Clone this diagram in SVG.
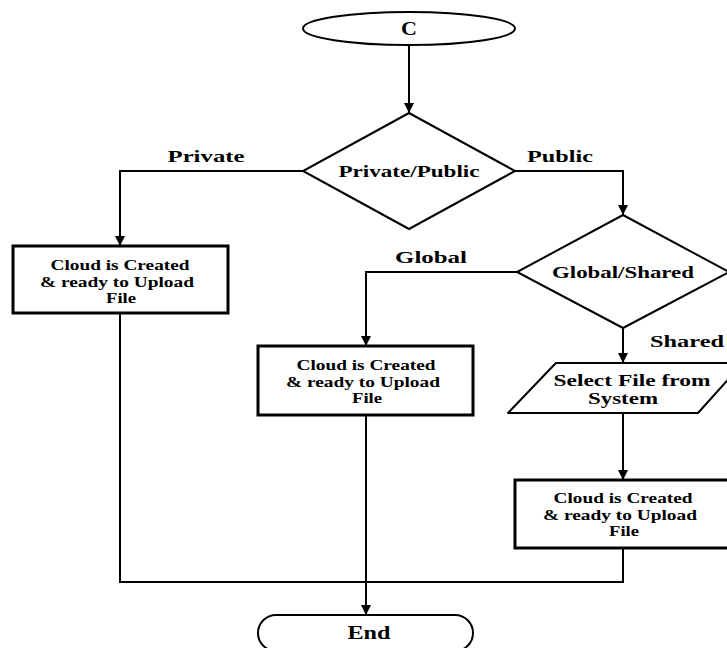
<svg xmlns="http://www.w3.org/2000/svg" width="727" height="648" viewBox="0 0 727 648">
  <defs>
    <marker id="arrow" markerUnits="userSpaceOnUse" markerWidth="10" markerHeight="10" refX="10" refY="5" orient="auto">
      <path d="M0,0 L10,5 L0,10 z" fill="#000"/>
    </marker>
    <style>
      .shape { fill: #fff; stroke: #000; stroke-width: 2; }
      .box { fill: #fff; stroke: #000; stroke-width: 3; }
      .conn { fill: none; stroke: #000; stroke-width: 2; }
      text { font-family: "Liberation Serif", "Times New Roman", serif; font-weight: bold; fill: #000; text-anchor: middle; }
      .lbl { font-size: 17px; }
      .big { font-size: 19px; }
      .bt { font-size: 15px; }
    </style>
  </defs>
  <rect width="727" height="648" fill="#fff"/>

  <g id="connectors">
    <path class="conn" d="M409,45 V113" marker-end="url(#arrow)"/>
    <path class="conn" d="M303,171 H120 V246" marker-end="url(#arrow)"/>
    <path class="conn" d="M515,171 H623 V215" marker-end="url(#arrow)"/>
    <path class="conn" d="M517,272 H366 V346" marker-end="url(#arrow)"/>
    <path class="conn" d="M623,328 V363" marker-end="url(#arrow)"/>
    <path class="conn" d="M623,413 V480" marker-end="url(#arrow)"/>
    <path class="conn" d="M120,313 V582 H623 V548"/>
    <path class="conn" d="M366,415 V615" marker-end="url(#arrow)"/>
    <text class="lbl" x="206" y="162" textLength="77" lengthAdjust="spacingAndGlyphs">Private</text>
    <text class="lbl" x="560" y="162" textLength="66" lengthAdjust="spacingAndGlyphs">Public</text>
    <text class="lbl" x="431" y="263" textLength="72" lengthAdjust="spacingAndGlyphs">Global</text>
    <text class="lbl" x="687" y="347" textLength="74" lengthAdjust="spacingAndGlyphs">Shared</text>
  </g>

  <g id="start">
    <ellipse class="shape" cx="409" cy="28.5" rx="106" ry="16.5"/>
    <text class="big" x="409" y="35" textLength="16" lengthAdjust="spacingAndGlyphs">C</text>
  </g>

  <g id="private-public">
    <polygon class="shape" points="409,113 515,171 409,229 303,171"/>
    <text class="lbl" x="409" y="177" textLength="141" lengthAdjust="spacingAndGlyphs">Private/Public</text>
  </g>

  <g id="cloud-private">
    <rect class="box" x="13" y="246" width="215" height="67"/>
    <text class="bt" x="120" y="270" textLength="139" lengthAdjust="spacingAndGlyphs">Cloud is Created</text>
    <text class="bt" x="117" y="287" textLength="154" lengthAdjust="spacingAndGlyphs">&amp; ready to Upload</text>
    <text class="bt" x="121" y="303" textLength="30" lengthAdjust="spacingAndGlyphs">File</text>
  </g>

  <g id="global-shared">
    <polygon class="shape" points="623,215 729,272 623,328 517,272"/>
    <text class="lbl" x="623" y="278" textLength="142" lengthAdjust="spacingAndGlyphs">Global/Shared</text>
  </g>

  <g id="cloud-global">
    <rect class="box" x="258" y="346" width="215" height="69"/>
    <text class="bt" x="366" y="370" textLength="139" lengthAdjust="spacingAndGlyphs">Cloud is Created</text>
    <text class="bt" x="363" y="387" textLength="154" lengthAdjust="spacingAndGlyphs">&amp; ready to Upload</text>
    <text class="bt" x="367" y="403" textLength="30" lengthAdjust="spacingAndGlyphs">File</text>
  </g>

  <g id="select-file">
    <path class="shape" d="M556,363 H743 L698,413 H508 L553,366 Z" stroke-linejoin="round"/>
    <text class="lbl" x="632" y="386" textLength="157" lengthAdjust="spacingAndGlyphs">Select File from</text>
    <text class="lbl" x="623" y="404" textLength="70" lengthAdjust="spacingAndGlyphs">System</text>
  </g>

  <g id="cloud-shared">
    <rect class="box" x="515" y="480" width="215" height="68"/>
    <text class="bt" x="623" y="503" textLength="139" lengthAdjust="spacingAndGlyphs">Cloud is Created</text>
    <text class="bt" x="620" y="520" textLength="154" lengthAdjust="spacingAndGlyphs">&amp; ready to Upload</text>
    <text class="bt" x="624" y="536" textLength="30" lengthAdjust="spacingAndGlyphs">File</text>
  </g>

  <g id="end">
    <rect class="shape" x="258" y="615" width="215" height="36" rx="18"/>
    <text class="big" x="369" y="639" textLength="43" lengthAdjust="spacingAndGlyphs">End</text>
  </g>
</svg>
